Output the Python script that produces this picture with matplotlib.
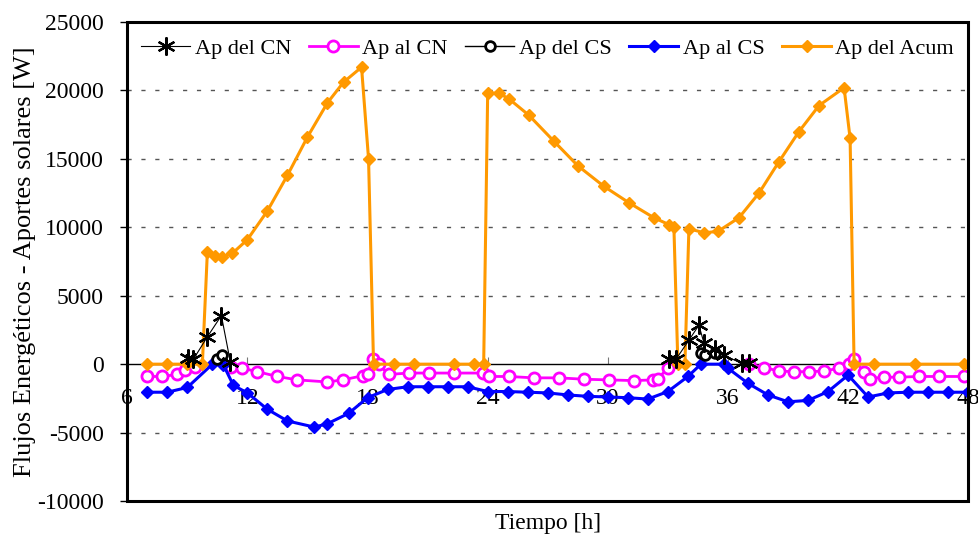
import numpy as np
import matplotlib.pyplot as plt
from matplotlib.patches import Rectangle

nan = np.nan

# Ap del Acum
acum_t = [7, 8, 9, 9.75, 10, 10.4, 10.75, 11.25, 12, 13, 14, 15, 16, 16.8, 17.7, 18.05,
          18.3, 19.3, 20.3, 22.3, 23.3, 23.8, 24, 24.55, 25.05, 26.05, 27.3, 28.5, 29.8,
          31.05, 32.3, 33.05, 33.3, 33.5, 33.85, 34.05, 34.8, 35.5, 36.55, 37.55, 38.55,
          39.55, 40.55, 41.8, 42.1, 42.3, 43.3, 45.35, 47.8]
acum_v = [0, 0, 0, 0, 8200, 7900, 7850, 8100, 9100, 11200, 13800, 16600, 19100, 20600,
          21700, 15000, 0, 0, 0, 0, 0, 0, 19800, 19800, 19400, 18200, 16300, 14500, 13000,
          11800, 10700, 10200, 10000, 0, 0, 9900, 9600, 9700, 10700, 12500, 14800, 17000,
          18900, 20200, 16500, 0, 0, 0, 0]

# Ap al CS
cs_t = [7, 8, 9, 10.25, 10.8, 11.3, 12, 13, 14, 15.35, 16, 17.05, 18, 19, 20, 21, 22, 23,
        24, 25, 26, 27, 28, 29, 30, 31, 32, 33, 34, 34.65, 35.8, 36, 37, 38, 39, 40, 41,
        42, 43, 44, 45, 46, 47, 48]
cs_v = [-2050, -2050, -1700, 0, -50, -1550, -2100, -3300, -4150, -4600, -4350, -3600,
        -2450, -1850, -1650, -1650, -1650, -1650, -2000, -2000, -2050, -2100, -2250, -2350,
        -2400, -2450, -2550, -2000, -900, 0, 0, -300, -1400, -2250, -2750, -2650, -2000,
        -800, -2400, -2100, -2050, -2050, -2050, -2050]

# Ap al CN
cn_t = [7, 7.75, 8.5, 8.9, 9.4, 10.3, 11.2, 11.75, 12.5, 13.5, 14.5, 16, 16.75, 17.75, 18,
        18.25, 18.55, 19.05, 20.05, 21.05, 22.3, 23.75, 24.05, 25.05, 26.3, 27.55, 28.8,
        30.05, 31.3, 32.25, 32.5, 33.0, 35, 37.05, 37.8, 38.55, 39.3, 40.05, 40.8, 41.55,
        42.05, 42.3, 42.8, 43.1, 43.8, 44.55, 45.55, 46.55, 47.8]
cn_v = [-900, -900, -750, -450, -200, nan, -200, -300, -550, -900, -1150, -1300, -1150,
        -850, -700, 350, 0, -750, -650, -650, -650, -650, -900, -900, -1000, -1000, -1100,
        -1150, -1200, -1150, -1050, -300, nan, 0, -250, -500, -550, -550, -500, -300, 0,
        350, -600, -1050, -950, -950, -900, -900, -900]

# Ap del CN
cnd_t = [9.05, 9.3, 10.0, 10.7, 11.15, 20, 33.05, 33.4, 34.05, 34.55, 34.8, 35.35, 35.8,
         36.7, 37.05]
cnd_v = [450, 350, 2000, 3550, 150, nan, 350, 350, 1750, 2850, 1550, 1100, 650, 50, 50]

# Ap del CS
csd_t = [10.5, 10.75, 20, 34.65, 34.85, 35.35]
csd_v = [400, 650, nan, 800, 650, 850]

plt.rcParams['font.family'] = ['Liberation Serif', 'DejaVu Serif']
plt.rcParams['axes.unicode_minus'] = False

fig = plt.figure(figsize=(9.79, 5.37), dpi=100)
ax = fig.add_axes([0.130, 0.067, 0.859, 0.892])

for yv in [-5000, 5000, 10000, 15000, 20000]:
    ax.axhline(yv, color='#555555', lw=1.0, ls=(0, (3, 7)), zorder=1)

ax.plot(cn_t, cn_v, color='#ff00ff', lw=2, marker='o', ms=8, mfc='white', mew=2,
        label='Ap al CN', zorder=3)
ax.plot(cs_t, cs_v, color='#0000ff', lw=2.2, marker='D', ms=6.5, label='Ap al CS', zorder=3)
ax.plot(acum_t, acum_v, color='#ff9900', lw=2.2, marker='D', ms=6.5, label='Ap del Acum',
        zorder=4)
ax.plot(csd_t, csd_v, color='black', lw=1.0, marker='o', ms=7, mfc='white', mew=2,
        label='Ap del CS', zorder=5)
ax.plot(cnd_t, cnd_v, color='black', lw=0.8, marker=(6, 2, 0), ms=13, mew=1.6,
        label='Ap del CN', zorder=6)

ax.set_xlim(6, 48)
ax.set_ylim(-10000, 25000)
ax.set_xticks(range(6, 49, 6))
ax.set_yticks(range(-10000, 25001, 5000))

ax.spines['bottom'].set_position(('data', 0))
ax.spines['bottom'].set_linewidth(1.0)
for s in ['top', 'right', 'left']:
    ax.spines[s].set_visible(False)
ax.add_patch(Rectangle((0, 0), 1, 1, transform=ax.transAxes, fill=False, lw=2.2,
                       ec='black', zorder=10, clip_on=False))

ax.tick_params(axis='x', direction='in', length=5, color='#777777', pad=17, labelsize=17)
ax.tick_params(axis='y', direction='out', length=5, width=1, pad=12, labelsize=17)

ax.set_xlabel('Tiempo [h]', fontsize=17)
ax.xaxis.set_label_coords(0.5, -0.025)
ax.set_ylabel('Flujos Energéticos - Aportes solares [W]', fontsize=19)
ax.yaxis.set_label_coords(-0.108, 0.5)

h, l = ax.get_legend_handles_labels()
order = ['Ap del CN', 'Ap al CN', 'Ap del CS', 'Ap al CS', 'Ap del Acum']
hh = [h[l.index(o)] for o in order]
ax.legend(hh, order, loc='upper center', bbox_to_anchor=(0.5, 1.008), ncol=5,
          frameon=False, fontsize=16, handlelength=2.2, handletextpad=0.2,
          columnspacing=0.8)

fig.savefig('out.png', dpi=100)
